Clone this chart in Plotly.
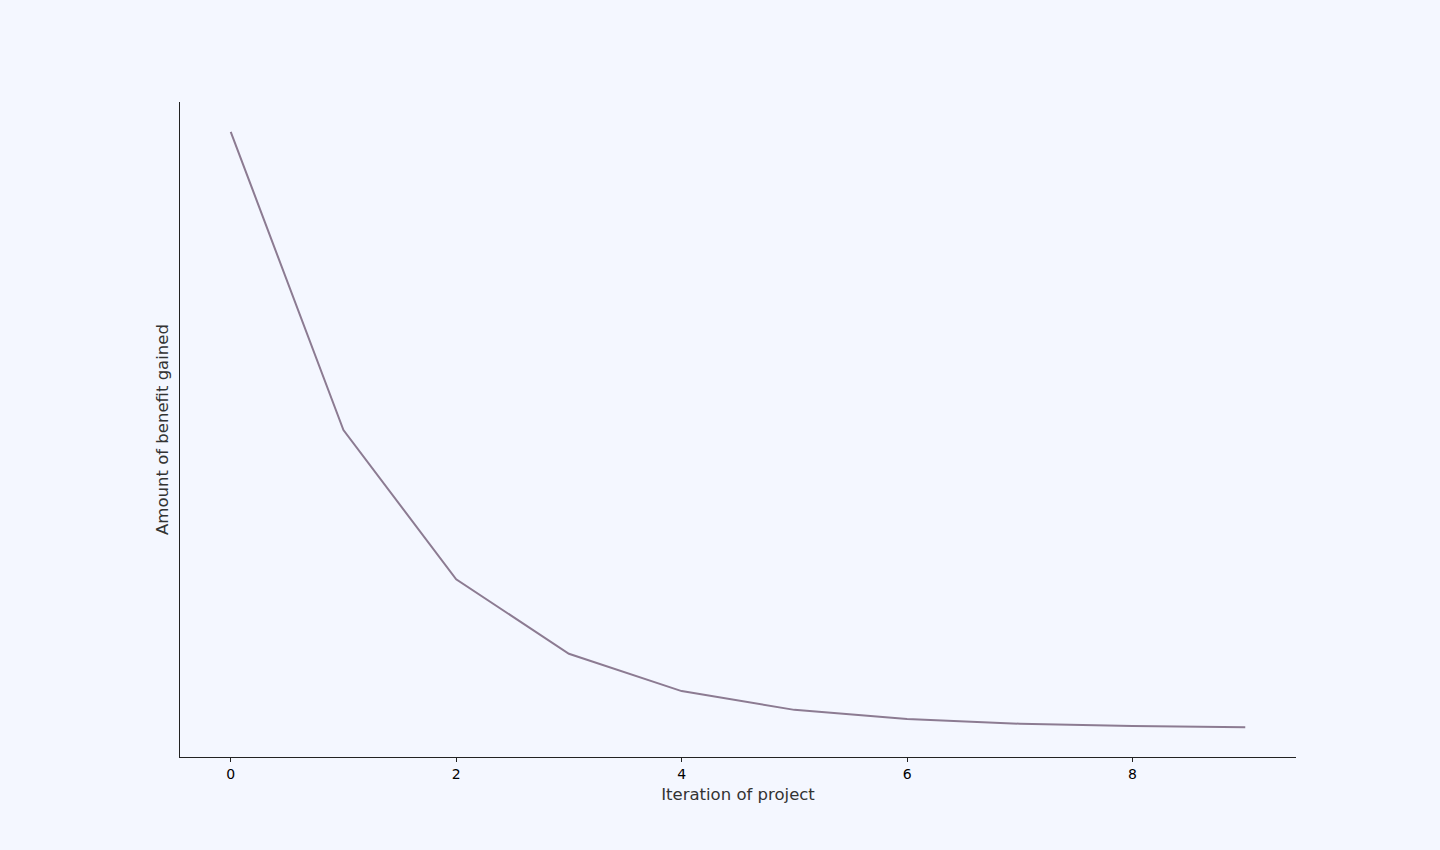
import plotly.graph_objects as go

iteration = [0, 1, 2, 3, 4, 5, 6, 7, 8, 9]
benefit = [1.0, 0.5, 0.25, 0.125, 0.0625, 0.031, 0.0156, 0.0078, 0.0039, 0.002]

bg = '#F4F7FF'

fig = go.Figure()
fig.add_trace(go.Scatter(x=iteration, y=benefit, mode='lines',
                         line=dict(color='#8C7B92', width=2)))

fig.update_layout(
    width=1440, height=850,
    paper_bgcolor=bg, plot_bgcolor=bg,
    margin=dict(l=180, r=144, t=102, b=93),
    showlegend=False,
    font=dict(family='DejaVu Sans', color='#333333'),
)
fig.update_xaxes(
    range=[-0.45, 9.45], tickvals=[0, 2, 4, 6, 8],
    showgrid=False, zeroline=False,
    showline=True, linecolor='#222222', linewidth=1,
    ticks='outside', ticklen=4, tickcolor='#222222',
    tickfont=dict(size=14, color='#000000'),
    title=dict(text='Iteration of project', font=dict(size=16.5), standoff=7),
)
fig.update_yaxes(
    range=[-0.048, 1.05],
    showgrid=False, zeroline=False, showticklabels=False, ticks='',
    showline=True, linecolor='#222222', linewidth=1,
    title=dict(text='Amount of benefit gained', font=dict(size=16.5), standoff=6),
)

# no page margin so the chart fills the window
fig.write_html("out.html", config={'displayModeBar': False},
               post_script="document.body.style.margin='0';")
